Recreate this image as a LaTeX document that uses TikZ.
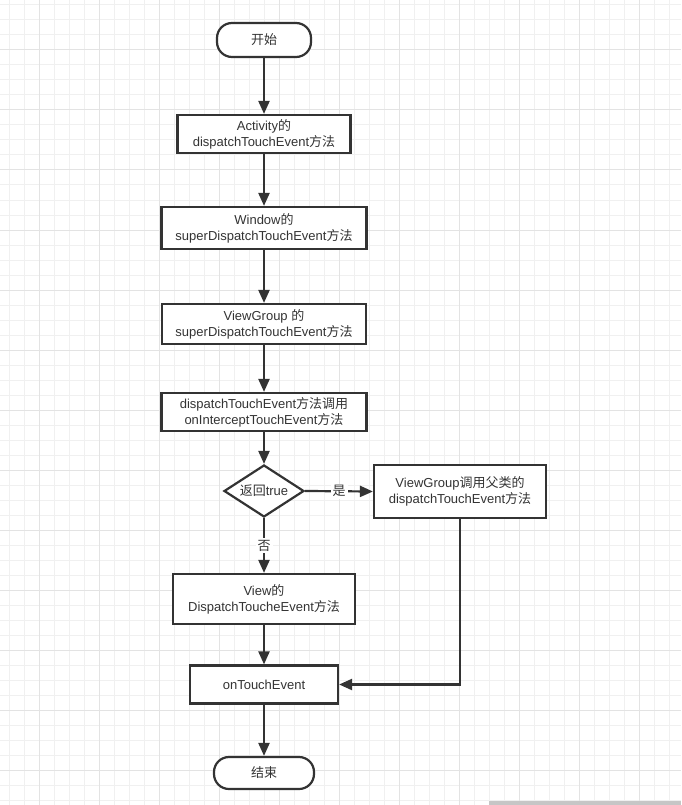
\documentclass[tikz,border=0pt]{standalone}
\usepackage{fontspec}
\setmainfont{Liberation Sans}
\newfontfamily\zh{Noto Sans CJK SC}
\usetikzlibrary{arrows.meta,shapes.geometric}
\definecolor{ink}{HTML}{333333}
\definecolor{gridA}{HTML}{F0F0F0}
\definecolor{gridB}{HTML}{E3E3E3}
\definecolor{barc}{HTML}{C6C6C6}
\newcommand{\zc}[1]{{\zh #1}}
\begin{document}
\begin{tikzpicture}[x=1pt,y=-1pt,
  box/.style={draw=ink, line width=2.2, fill=white, text=ink, align=center, inner sep=0pt,
    font=\fontsize{13}{16}\selectfont},
  term/.style={box, rounded corners=15},
  dec/.style={box, diamond, aspect=1.54},
  lbl/.style={fill=white, text=ink, inner sep=2pt, font=\fontsize{13}{16}\selectfont},
  arr/.style={draw=ink, line width=2.2, -{Triangle[length=13,width=11]}}]
\useasboundingbox (0,0) rectangle (681,805);
\fill[white] (0,0) rectangle (681,805);
% grid
\foreach \i in {0,...,44} \draw[gridA, line width=1] ({9.3+15*\i},0) -- ({9.3+15*\i},805);
\foreach \i in {0,...,53} \draw[gridA, line width=1] (0,{5+15*\i}) -- (681,{5+15*\i});
\foreach \i in {0,...,10} \draw[gridB, line width=1] ({39.3+60*\i},0) -- ({39.3+60*\i},805);
\foreach \i in {0,...,12} \draw[gridB, line width=1] (0,{50+60*\i}) -- (681,{50+60*\i});
\fill[barc] (489,801) rectangle (681,805);
% nodes
\node[term, minimum width=94, minimum height=34] (start) at (264,40) {\zc{开始}};
\node[box, minimum width=173, minimum height=38] (b1) at (264,134) {Activity\zc{的}\\dispatchTouchEvent\zc{方法}};
\node[box, minimum width=205, minimum height=42] (b2) at (264,228) {Window\zc{的}\\superDispatchTouchEvent\zc{方法}};
\node[box, minimum width=204, minimum height=40] (b3) at (264,324) {ViewGroup \zc{的}\\superDispatchTouchEvent\zc{方法}};
\node[box, minimum width=205, minimum height=38] (b4) at (264,412) {dispatchTouchEvent\zc{方法调用}\\onInterceptTouchEvent\zc{方法}};
\node[dec, minimum width=80, minimum height=52] (d) at (264,491) {\zc{返回}true};
\node[box, minimum width=172, minimum height=53] (r) at (460,491.5) {ViewGroup\zc{调用父类的}\\dispatchTouchEvent\zc{方法}};
\node[box, minimum width=182, minimum height=50] (v) at (264,599) {View\zc{的}\\DispatchToucheEvent\zc{方法}};
\node[box, minimum width=148, minimum height=38] (o) at (264,684.5) {onTouchEvent};
\node[term, minimum width=100, minimum height=32] (end) at (264,773) {\zc{结束}};
% connectors
\draw[arr] (start) -- (b1);
\draw[arr] (b1) -- (b2);
\draw[arr] (b2) -- (b3);
\draw[arr] (b3) -- (b4);
\draw[arr] (b4) -- (d);
\draw[arr] (d.east) -- node[lbl] {\zc{是}} (r.west);
\draw[arr] (d.south) -- node[lbl] {\zc{否}} (v.north);
\draw[arr] (v) -- (o);
\draw[arr] (r.south) |- (o.east);
\draw[arr] (o) -- (end);
\end{tikzpicture}
\end{document}
